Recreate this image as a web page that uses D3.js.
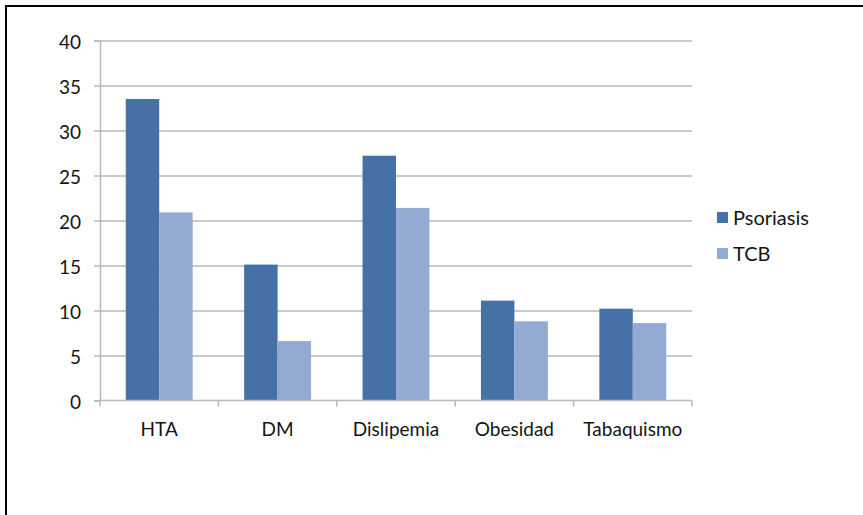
<!DOCTYPE html>
<html>
<head>
<meta charset="utf-8">
<script src="https://cdn.jsdelivr.net/npm/d3@7/dist/d3.min.js"></script>
<style>
  html, body { margin: 0; padding: 0; background: #fff; }
  svg { display: block; }
  text { font-family: Lato, "Open Sans", sans-serif; fill: #151515; }
</style>
</head>
<body>
<svg id="chart" width="863" height="515"></svg>
<script>
// Comorbidity prevalence (%) by group
const categories = ["HTA", "DM", "Dislipemia", "Obesidad", "Tabaquismo"];
const seriesNames = ["Psoriasis", "TCB"];
const psoriasis = [33.5, 15.1, 27.2, 11.1, 10.2];
const tcb = [20.9, 6.6, 21.4, 8.8, 8.6];
const yTicks = [0, 5, 10, 15, 20, 25, 30, 35, 40];
const colors = ["#4671a7", "#93aad2"];

const svg = d3.select("#chart");
const plot = { left: 100, right: 692, top: 40.5, bottom: 400.5 };

// Frame: top and left edges
svg.append("line").attr("x1", 5).attr("x2", 863).attr("y1", 6).attr("y2", 6)
  .attr("stroke", "#000").attr("stroke-width", 2);
svg.append("line").attr("x1", 6).attr("x2", 6).attr("y1", 5).attr("y2", 515)
  .attr("stroke", "#000").attr("stroke-width", 2);

const x0 = d3.scaleBand().domain(categories).range([plot.left, plot.right]).padding(0);
const x1 = d3.scaleBand().domain(seriesNames).range([0, x0.bandwidth()])
  .paddingInner(0).paddingOuter(0.77);
const y = d3.scaleLinear().domain([0, 40]).range([plot.bottom, plot.top]);

// Horizontal gridlines with left tick marks
const yAxis = d3.axisLeft(y).tickValues(yTicks).tickSize(6).tickPadding(13)
  .tickFormat(d3.format("d"));
const gy = svg.append("g").attr("transform", `translate(${plot.left},0)`).call(yAxis);
gy.select(".domain").attr("stroke", "#b9b9b9").attr("stroke-width", 1.5);
gy.selectAll(".tick line").attr("stroke", "#b9b9b9").attr("stroke-width", 1.5);
gy.selectAll(".tick text").attr("font-size", 19).attr("dy", "0.4em");
gy.selectAll(".tick").filter(d => d > 0).append("line")
  .attr("x1", 0).attr("x2", plot.right - plot.left)
  .attr("stroke", "#b9b9b9").attr("stroke-width", 1.5);

// Bars
const rows = categories.map((c, i) => ({ cat: c, values: [psoriasis[i], tcb[i]] }));
const groups = svg.append("g").selectAll("g").data(rows).join("g")
  .attr("transform", d => `translate(${x0(d.cat)},0)`);
groups.selectAll("rect")
  .data(d => d.values.map((v, j) => ({ name: seriesNames[j], value: v, j })))
  .join("rect")
  .attr("x", d => x1(d.name))
  .attr("width", x1.bandwidth())
  .attr("y", d => y(d.value))
  .attr("height", d => y(0) - y(d.value))
  .attr("fill", d => colors[d.j]);

// Category axis with ticks at band boundaries
const gx = svg.append("g").attr("transform", `translate(0,${plot.bottom})`);
gx.append("line").attr("x1", plot.left).attr("x2", plot.right)
  .attr("stroke", "#b9b9b9").attr("stroke-width", 1.5);
const boundaries = categories.map(c => x0(c)).concat([x0.range()[1]]);
gx.selectAll("line.tick").data(boundaries).join("line").attr("class", "tick")
  .attr("x1", d => d).attr("x2", d => d).attr("y1", 0).attr("y2", 6)
  .attr("stroke", "#b9b9b9").attr("stroke-width", 1.5);
gx.selectAll("text").data(categories).join("text")
  .attr("x", d => x0(d) + x0.bandwidth() / 2)
  .attr("y", 35)
  .attr("text-anchor", "middle")
  .attr("font-size", 19)
  .text(d => d);

// Legend
const legend = svg.append("g").attr("transform", "translate(717,212)");
const items = legend.selectAll("g").data(seriesNames).join("g")
  .attr("transform", (d, i) => `translate(0,${i * 36})`);
items.append("rect").attr("width", 11).attr("height", 11).attr("fill", (d, i) => colors[i]);
items.append("text").attr("x", 16).attr("y", 13).attr("font-size", 20).text(d => d);
</script>
</body>
</html>
